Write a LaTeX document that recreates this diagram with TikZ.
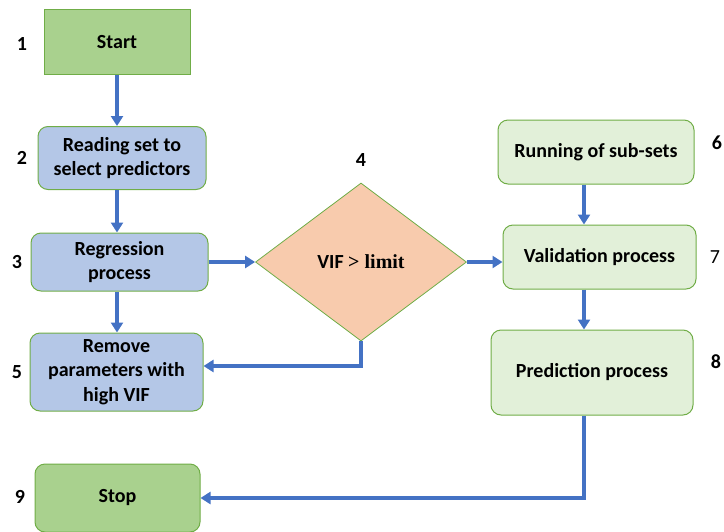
\documentclass[tikz,border=0pt]{standalone}
\usepackage{fontspec}
\setmainfont{Carlito}
\newfontfamily\timesfont{Liberation Serif}
\usetikzlibrary{shapes.geometric,arrows.meta}
\definecolor{startgreen}{HTML}{A9D18E}
\definecolor{edgegreen}{HTML}{70AD47}
\definecolor{stepblue}{HTML}{B4C7E7}
\definecolor{palegreen}{HTML}{E2F0D9}
\definecolor{peach}{HTML}{F8CBAD}
\definecolor{arrowblue}{HTML}{4472C4}
\begin{document}
\begin{tikzpicture}
        [x=1pt,y=-1pt,every node/.style={font=\fontsize{20}{24.5}\selectfont\bfseries},
         box/.style={draw=edgegreen,line width=1pt,rounded corners=10pt,align=center,inner sep=0pt},
         arr/.style={draw=arrowblue,line width=3.2pt,-{Triangle[width=12pt,length=10pt]}}]
        \useasboundingbox (0,0) rectangle (724,531);
        % left column
        \node[box,sharp corners,fill=startgreen,minimum width=146pt,minimum height=65pt] (start) at (117,42) {Start};
        \node[box,fill=stepblue,minimum width=168pt,minimum height=63pt] (read) at (122,158) {Reading set to\\select predictors};
        \node[box,fill=stepblue,minimum width=177pt,minimum height=58pt] (regr) at (119.5,262) {Regression\\process};
        \node[box,fill=stepblue,minimum width=173pt,minimum height=78pt] (remove) at (116.5,372) {Remove\\parameters with\\high VIF};
        \node[box,fill=startgreen,minimum width=165pt,minimum height=68pt] (stop) at (117.5,498) {Stop};
        % decision
        \node[shape=diamond,draw=edgegreen,line width=0.8pt,fill=peach,inner sep=0pt,
              minimum width=211pt,minimum height=158pt] (dia) at (361,262) {VIF {\timesfont > limit}};
        % right column
        \node[box,fill=palegreen,minimum width=196pt,minimum height=64pt] (run) at (596,152) {Running of sub-sets};
        \node[box,fill=palegreen,minimum width=193pt,minimum height=64pt] (valid) at (599.5,257) {Validation process};
        \node[box,fill=palegreen,minimum width=202pt,minimum height=85pt] (pred) at (592,372.5) {Prediction process};
        \coordinate (rc) at (584,0);
        % step numbers
        \foreach \name/\pos/\txt in {l1/{(22,44)}/1,l2/{(22,158)}/2,l3/{(17,262)}/3,l4/{(361,160)}/4,
                                     l5/{(17,372)}/5,l6/{(717,143)}/6,l8/{(716,362)}/8,l9/{(20,497)}/9}
          \node (\name) at \pos {\txt};
        \node[font=\fontsize{20}{24}\selectfont] (l7) at (715,257) {7};
        % connectors
        \draw[arr] (start) -- (start |- read.north);
        \draw[arr] (read.south -| start) -- (start |- regr.north);
        \draw[arr] (regr.south -| start) -- (start |- remove.north);
        \draw[arr] (regr.east) -- (dia.west);
        \draw[arr] (dia.east) -- (dia.east -| valid.west);
        \draw[arr] (run.south -| rc) -- (rc |- valid.north);
        \draw[arr] (valid.south -| rc) -- (rc |- pred.north);
        \draw[arr,rounded corners=0pt] (dia.south) |- ([yshift=6pt]remove.east);
        \draw[arr] (pred.south -| rc) |- (stop.east);
      \end{tikzpicture}
\end{document}
